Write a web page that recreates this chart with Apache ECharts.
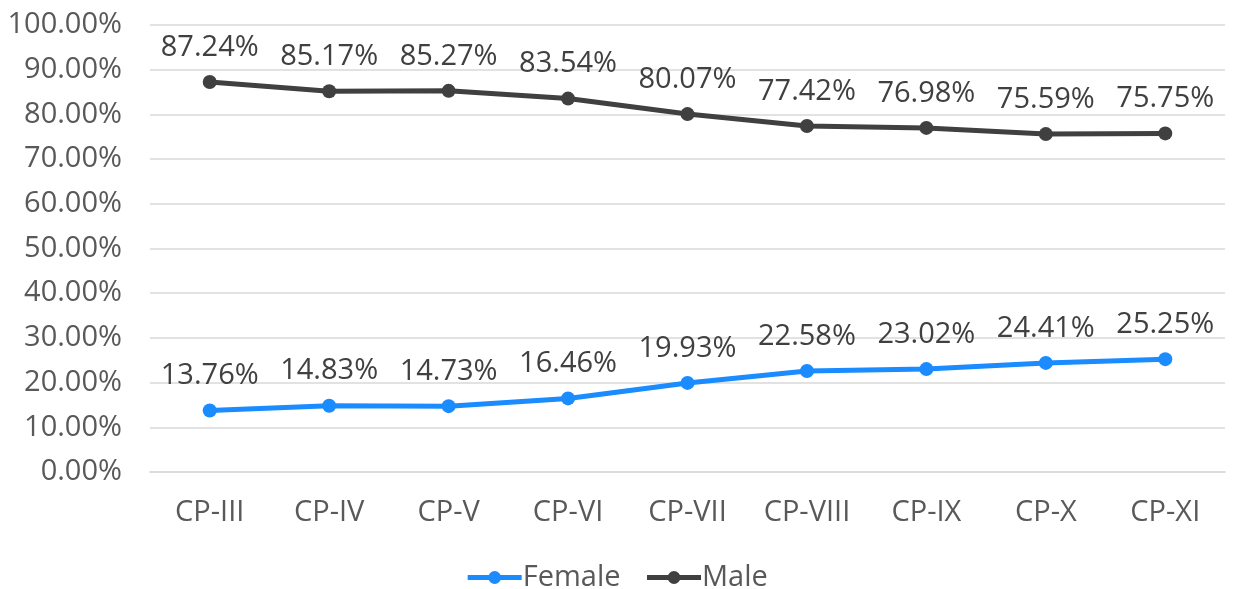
<!DOCTYPE html>
<html>
<head>
<meta charset="utf-8" />
<title>Female / Male share</title>
<script src="https://cdn.jsdelivr.net/npm/echarts@6/dist/echarts.min.js"></script>
<style>
  html, body { margin: 0; padding: 0; background: #fff; }
  #main { width: 1233px; height: 589px; }
</style>
</head>
<body>
<div id="main"></div>
<script type="text/javascript">
// data
var categories = ['CP-III', 'CP-IV', 'CP-V', 'CP-VI', 'CP-VII', 'CP-VIII', 'CP-IX', 'CP-X', 'CP-XI'];
var femaleValues = [13.76, 14.83, 14.73, 16.46, 19.93, 22.58, 23.02, 24.41, 25.25];
var maleValues = [87.24, 85.17, 85.27, 83.54, 80.07, 77.42, 76.98, 75.59, 75.75];

var fontName = 'Open Sans';

var myChart = echarts.init(document.getElementById('main'));

function lineSeries(name, data, color) {
    return {
        name: name,
        type: 'line',
        data: data,
        symbol: 'circle',
        symbolSize: 14,
        lineStyle: { width: 5, color: color },
        itemStyle: { color: color },
        label: {
            show: true,
            position: 'top',
            distance: 13,
            color: '#404040',
            fontSize: 29,
            fontFamily: fontName,
            formatter: function (p) { return p.value.toFixed(2) + '%'; }
        },
        animation: false
    };
}

var option = {
    backgroundColor: '#fff',
    grid: { left: 150, right: 8, top: 25, bottom: 117 },
    legend: {
        top: 558,
        left: 'center',
        itemWidth: 54,
        itemHeight: 16,
        itemGap: 24,
        lineStyle: { width: 5 },
        textStyle: { color: '#595959', fontSize: 29, fontFamily: fontName, padding: [0, 0, 0, -4] },
        data: ['Female', 'Male']
    },
    xAxis: {
        type: 'category',
        data: categories,
        boundaryGap: true,
        axisLine: { lineStyle: { color: '#d9d9d9', width: 1.5 } },
        axisTick: { show: false },
        axisLabel: { color: '#595959', fontSize: 29, fontFamily: fontName, margin: 26 }
    },
    yAxis: {
        type: 'value',
        min: 0,
        max: 100,
        interval: 10,
        axisLine: { show: false },
        axisTick: { show: false },
        splitLine: { lineStyle: { color: '#d9d9d9', width: 1.5 } },
        axisLabel: {
            color: '#595959',
            fontSize: 29,
            fontFamily: fontName,
            margin: 28,
            formatter: function (v) { return v.toFixed(2) + '%'; }
        }
    },
    series: [
        lineSeries('Female', femaleValues, '#1a8cff'),
        lineSeries('Male', maleValues, '#404040')
    ]
};

myChart.setOption(option);
</script>
</body>
</html>
